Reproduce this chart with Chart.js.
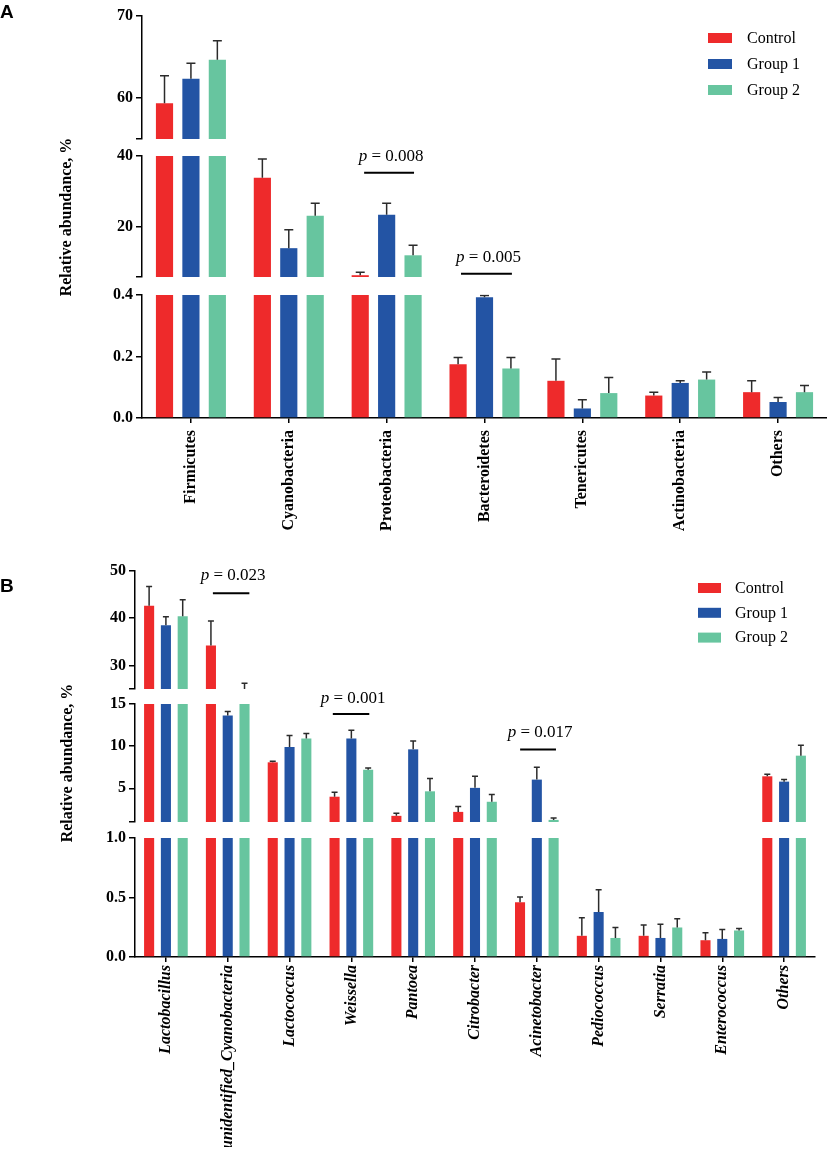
<!DOCTYPE html>
<html>
<head>
<meta charset="utf-8">
<script src="https://cdn.jsdelivr.net/npm/chart.js@4/dist/chart.umd.min.js"></script>
<style>
  html, body { margin: 0; padding: 0; background: #fff; }
  #stage { position: relative; width: 827px; height: 1155px; overflow: hidden; background: #fff; }
  #stage canvas { position: absolute; left: 0; top: 0; }
</style>
</head>
<body>
<div id="stage"></div>
<script>
// ---------------- DATA ----------------
const seriesNames = ['Control', 'Group 1', 'Group 2'];

// Panel A (phylum level)
const phylaLabels = ['Firmicutes', 'Cyanobacteria', 'Proteobacteria', 'Bacteroidetes', 'Tenericutes', 'Actinobacteria', 'Others'];
const phylaControl    = [59.35, 33.9, 6.5,  0.175, 0.121, 0.073, 0.084];
const phylaControlErr = [3.35,  5.25, 0.8,  0.022, 0.071, 0.011, 0.037];
const phylaGroup1     = [62.35, 14.1, 23.5, 0.393, 0.031, 0.114, 0.052];
const phylaGroup1Err  = [1.9,   5.2,  3.2,  0.005, 0.028, 0.007, 0.015];
const phylaGroup2     = [64.67, 23.2, 12.1, 0.161, 0.081, 0.125, 0.084];
const phylaGroup2Err  = [2.3,   3.5,  2.8,  0.036, 0.051, 0.025, 0.022];
// broken-axis segments (top, middle, bottom): range + labelled ticks
const phylaRangeTop = [55, 70];   const phylaTicksTop = ['60', '70'];
const phylaRangeMid = [6, 40];    const phylaTicksMid = ['20', '40'];
const phylaRangeLow = [0, 0.4];   const phylaTicksLow = ['0.0', '0.2', '0.4'];
const phylaPValues  = ['0.008', '0.005'];
const phylaPFrom    = [1.77, 2.76];
const phylaPTo      = [2.28, 3.28];
const phylaPLine    = [35.3, 6.9];
const phylaPText    = [38.5, 10.1];

// Panel B (genus level)
const genusLabels = ['Lactobacillus', 'unidentified_Cyanobacteria', 'Lactococcus', 'Weissella', 'Pantoea', 'Citrobacter', 'Acinetobacter', 'Pediococcus', 'Serratia', 'Enterococcus', 'Others'];
const genusControl    = [42.65, 34.2, 8.08, 4.0,  1.73, 2.2,  0.46,  0.178, 0.178, 0.141, 6.42];
const genusControlErr = [4.05,  5.2,  0.12, 0.53, 0.31, 0.63, 0.045, 0.152, 0.09,  0.062, 0.24];
const genusGroup1     = [38.5,  13.65, 9.9, 10.9, 9.62, 5.05, 6.03,  0.378, 0.16,  0.152, 5.79];
const genusGroup1Err  = [1.8,   0.45, 1.35, 1.0,  0.98, 1.37, 1.47,  0.188, 0.116, 0.08,  0.24];
const genusGroup2     = [40.4,  21.0, 10.9, 7.2,  4.64, 3.4,  1.25,  0.16,  0.248, 0.223, 8.87];
const genusGroup2Err  = [3.5,   5.2,  0.6,  0.2,  1.51, 0.85, 0.23,  0.088, 0.073, 0.017, 1.23];
const genusRangeTop = [25, 50];   const genusTicksTop = ['30', '40', '50'];
const genusRangeMid = [1, 15];    const genusTicksMid = ['5', '10', '15'];
const genusRangeLow = [0, 1];     const genusTicksLow = ['0.0', '0.5', '1.0'];
const genusPValues  = ['0.023', '0.001', '0.017'];
const genusPFrom    = [0.76, 2.70, 5.73];
const genusPTo      = [1.35, 3.29, 6.31];
const genusPLine    = [45.3, 13.8, 9.6];
const genusPText    = [48.1, 15.1, 11.1];

// ---------------- STYLE / LAYOUT ----------------
const W = 827, H = 1155;
const COLORS = ['#EE2A2B', '#2354A4', '#67C59F'];
const SERIF = "'Liberation Serif', 'Times New Roman', serif";
const SANS = "'Liberation Sans', Arial, sans-serif";
const Y_AXIS_W = 60;

const stage = document.getElementById('stage');
function makeCanvas() {
  const c = document.createElement('canvas');
  c.width = W; c.height = H;
  c.style.width = W + 'px'; c.style.height = H + 'px';
  stage.appendChild(c);
  return c.getContext('2d');
}

// error bars (upward only), clipped to the segment's chart area
const errorBarPlugin = {
  id: 'errbars',
  afterDatasetsDraw(chart, args, opts) {
    const ctx = chart.ctx, a = chart.chartArea, ys = chart.scales.y;
    ctx.save();
    ctx.beginPath();
    ctx.rect(a.left, a.top - 0.5, a.right - a.left, a.bottom - a.top + 0.5);
    ctx.clip();
    ctx.strokeStyle = '#2b2b2b';
    ctx.lineWidth = 1.5;
    chart.data.datasets.forEach((ds, di) => {
      const meta = chart.getDatasetMeta(di);
      meta.data.forEach((bar, i) => {
        const v = ds.data[i], e = ds.errors[i];
        const y0 = ys.getPixelForValue(v), y1 = ys.getPixelForValue(v + e);
        ctx.beginPath();
        ctx.moveTo(bar.x, y0); ctx.lineTo(bar.x, y1);
        ctx.moveTo(bar.x - opts.cap, y1); ctx.lineTo(bar.x + opts.cap, y1);
        ctx.stroke();
      });
    });
    ctx.restore();
  }
};

// significance lines + p-values
const sigPlugin = {
  id: 'sig',
  afterDatasetsDraw(chart, args, opts) {
    if (!opts.items) return;
    const ctx = chart.ctx, xs = chart.scales.x, ys = chart.scales.y;
    ctx.save();
    opts.items.forEach(s => {
      const x1 = xs.getPixelForValue(s.from), x2 = xs.getPixelForValue(s.to);
      const yl = ys.getPixelForValue(s.line);
      ctx.strokeStyle = '#000'; ctx.lineWidth = 2;
      ctx.beginPath(); ctx.moveTo(x1, yl); ctx.lineTo(x2, yl); ctx.stroke();
      const xc = (x1 + x2) / 2 + 2, yt = ys.getPixelForValue(s.text);
      ctx.fillStyle = '#000'; ctx.textBaseline = 'alphabetic'; ctx.textAlign = 'left';
      const fI = 'italic 17px ' + SERIF, fR = '17px ' + SERIF;
      ctx.font = fI; const wp = ctx.measureText('p').width;
      ctx.font = fR; const rest = ' = ' + s.label; const wr = ctx.measureText(rest).width;
      const x0 = xc - (wp + wr) / 2;
      ctx.font = fI; ctx.fillText('p', x0, yt);
      ctx.font = fR; ctx.fillText(rest, x0 + wp, yt);
    });
    ctx.restore();
  }
};

// axis title, panel letter, legend
const decorPlugin = {
  id: 'decor',
  afterDraw(chart, args, opts) {
    const ctx = chart.ctx;
    ctx.save();
    (opts.texts || []).forEach(t => {
      ctx.save();
      ctx.font = t.font; ctx.fillStyle = '#000';
      ctx.textAlign = t.align || 'left'; ctx.textBaseline = t.baseline || 'alphabetic';
      ctx.translate(t.x, t.y);
      if (t.rotate) ctx.rotate(t.rotate);
      ctx.fillText(t.text, 0, 0);
      ctx.restore();
    });
    if (opts.legend) {
      const L = opts.legend;
      seriesNames.forEach((name, i) => {
        const top = L.y + i * L.step;
        ctx.fillStyle = COLORS[i];
        ctx.fillRect(L.x, top, L.w, L.h);
        ctx.fillStyle = '#000';
        ctx.font = '16px ' + SERIF;
        ctx.textAlign = 'left'; ctx.textBaseline = 'middle';
        ctx.fillText(name, L.textX, top + L.h / 2 + 0.5);
      });
    }
    ctx.restore();
  }
};

function makeSegment(cfg) {
  const ctx = makeCanvas();
  const labelVals = cfg.tickLabels.map(parseFloat);
  const tickVals = [cfg.range[0]].concat(labelVals).filter((v, i, arr) => arr.indexOf(v) === i);
  const fmt = v => {
    const idx = labelVals.findIndex(l => Math.abs(l - v) < 1e-9);
    return idx >= 0 ? cfg.tickLabels[idx] : '';
  };
  const xH = cfg.showX ? cfg.xHeight : 0;
  const datasets = cfg.values.map((vals, i) => ({
    label: seriesNames[i],
    data: vals,
    errors: cfg.errors[i],
    backgroundColor: COLORS[i],
    borderWidth: 0,
    categoryPercentage: cfg.catPct,
    barPercentage: cfg.barPct,
    clip: 0
  }));
  return new Chart(ctx, {
    type: 'bar',
    data: { labels: cfg.labels, datasets },
    plugins: [errorBarPlugin, sigPlugin, decorPlugin],
    options: {
      responsive: false,
      animation: false,
      devicePixelRatio: 1,
      events: [],
      layout: {
        padding: {
          left: cfg.area.left - Y_AXIS_W,
          right: W - cfg.area.right,
          top: cfg.area.top,
          bottom: H - cfg.area.bottom - xH
        }
      },
      plugins: {
        legend: { display: false },
        tooltip: { enabled: false },
        errbars: { cap: cfg.cap },
        sig: { items: cfg.sig || null },
        decor: cfg.decor || {}
      },
      scales: {
        x: {
          type: 'category',
          display: !!cfg.showX,
          offset: true,
          afterFit: s => { s.height = xH; },
          grid: { display: true, drawOnChartArea: false, drawTicks: true, tickLength: 5, offset: false, color: '#000', lineWidth: 1.5 },
          border: { display: true, color: '#000', width: 1.5 },
          ticks: {
            autoSkip: false, maxRotation: 90, minRotation: 90,
            padding: cfg.xPad || 4,
            color: '#000',
            font: cfg.xFont
          }
        },
        y: {
          type: 'linear',
          min: cfg.range[0], max: cfg.range[1],
          afterBuildTicks: s => { s.ticks = tickVals.map(v => ({ value: v })); },
          afterFit: s => { s.width = Y_AXIS_W; },
          grid: { display: true, drawOnChartArea: false, drawTicks: true, tickLength: 6, color: '#000', lineWidth: 1.5 },
          border: { display: true, color: '#000', width: 1.5 },
          ticks: {
            autoSkip: false,
            padding: 3,
            color: '#000',
            font: { family: SERIF, size: 16, weight: 'bold' },
            callback: v => fmt(v)
          }
        }
      }
    }
  });
}

const sigItems = (vals, from, to, line, text) => vals.map((label, i) => ({ label, from: from[i], to: to[i], line: line[i], text: text[i] }));

// ---------------- PANEL A ----------------
const aValues = [phylaControl, phylaGroup1, phylaGroup2];
const aErrors = [phylaControlErr, phylaGroup1Err, phylaGroup2Err];
const aBase = { labels: phylaLabels, values: aValues, errors: aErrors, catPct: 0.81, barPct: 0.65, cap: 4.5 };
const aL = 142, aR = 827;

makeSegment(Object.assign({}, aBase, {
  range: phylaRangeTop, tickLabels: phylaTicksTop,
  area: { left: aL, right: aR, top: 16, bottom: 139 },
  decor: {
    texts: [
      { text: 'A', x: 0, y: 18, font: 'bold 19px ' + SANS },
      { text: 'Relative abundance, %', x: 71, y: 217, font: 'bold 16px ' + SERIF, align: 'center', rotate: -Math.PI / 2 }
    ],
    legend: { x: 708, y: 33, w: 24, h: 10, step: 26, textX: 747 }
  }
}));
makeSegment(Object.assign({}, aBase, {
  range: phylaRangeMid, tickLabels: phylaTicksMid,
  area: { left: aL, right: aR, top: 156, bottom: 277 },
  sig: sigItems(phylaPValues, phylaPFrom, phylaPTo, phylaPLine, phylaPText)
}));
makeSegment(Object.assign({}, aBase, {
  range: phylaRangeLow, tickLabels: phylaTicksLow,
  area: { left: aL, right: aR, top: 295, bottom: 418 },
  showX: true, xHeight: 150, xPad: 7,
  xFont: { family: SERIF, size: 16, weight: 'bold' }
}));

// ---------------- PANEL B ----------------
const bValues = [genusControl, genusGroup1, genusGroup2];
const bErrors = [genusControlErr, genusGroup1Err, genusGroup2Err];
const bBase = { labels: genusLabels, values: bValues, errors: bErrors, catPct: 0.815, barPct: 0.6, cap: 3 };
const bL = 135, bR = 815;

makeSegment(Object.assign({}, bBase, {
  range: genusRangeTop, tickLabels: genusTicksTop,
  area: { left: bL, right: bR, top: 571, bottom: 689 },
  sig: sigItems([genusPValues[0]], [genusPFrom[0]], [genusPTo[0]], [genusPLine[0]], [genusPText[0]]),
  decor: {
    texts: [
      { text: 'B', x: 0, y: 592, font: 'bold 19px ' + SANS },
      { text: 'Relative abundance, %', x: 72, y: 763, font: 'bold 16px ' + SERIF, align: 'center', rotate: -Math.PI / 2 }
    ],
    legend: { x: 698, y: 583, w: 23, h: 10, step: 24.8, textX: 735 }
  }
}));
makeSegment(Object.assign({}, bBase, {
  range: genusRangeMid, tickLabels: genusTicksMid,
  area: { left: bL, right: bR, top: 704, bottom: 822 },
  sig: sigItems(genusPValues.slice(1), genusPFrom.slice(1), genusPTo.slice(1), genusPLine.slice(1), genusPText.slice(1))
}));
makeSegment(Object.assign({}, bBase, {
  range: genusRangeLow, tickLabels: genusTicksLow,
  area: { left: bL, right: bR, top: 838, bottom: 957 },
  showX: true, xHeight: 190, xPad: 3,
  xFont: { family: SERIF, size: 16, weight: 'bold', style: 'italic' }
}));
</script>
</body>
</html>
